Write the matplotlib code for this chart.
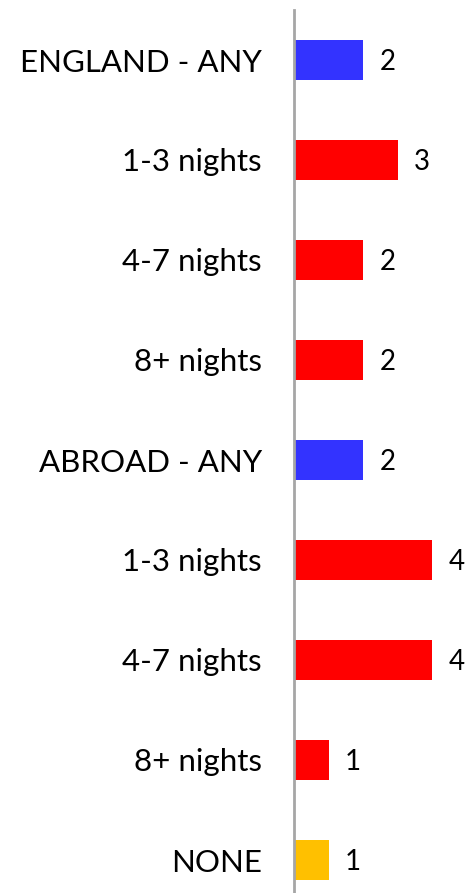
import matplotlib
matplotlib.use('Agg')
import matplotlib.pyplot as plt

categories = ['ENGLAND - ANY', '1-3 nights', '4-7 nights', '8+ nights',
              'ABROAD - ANY', '1-3 nights', '4-7 nights', '8+ nights', 'NONE']
values = [2, 3, 2, 2, 2, 4, 4, 1, 1]
colors = ['#3333FF', '#FF0000', '#FF0000', '#FF0000',
          '#3333FF', '#FF0000', '#FF0000', '#FF0000', '#FFC000']

plt.rcParams['font.family'] = ['Lato', 'DejaVu Sans']

W, H = 471, 893
fig = plt.figure(figsize=(W / 100, H / 100), dpi=100)
ax = fig.add_axes([294 / W, 0, 1 - 294 / W, (H - 10) / H])

ypos = list(range(len(categories)))
ax.barh(ypos, values, height=0.4, color=colors)
ax.set_xlim(0, (W - 294) / 34.5)
ax.set_ylim(8.33, -0.5)

for y, v in zip(ypos, values):
    ax.text(v + 0.48, y + 0.02, str(v), va='center', ha='left', fontsize=20)

ax.set_yticks(ypos)
ax.set_yticklabels(categories, fontsize=22.5)
ax.tick_params(axis='y', length=0, pad=23)
ax.set_xticks([])
for s in ['top', 'right', 'bottom']:
    ax.spines[s].set_visible(False)
ax.spines['left'].set_color('#A6A6A6')
ax.spines['left'].set_linewidth(2)

fig.savefig('out.png', dpi=100)
